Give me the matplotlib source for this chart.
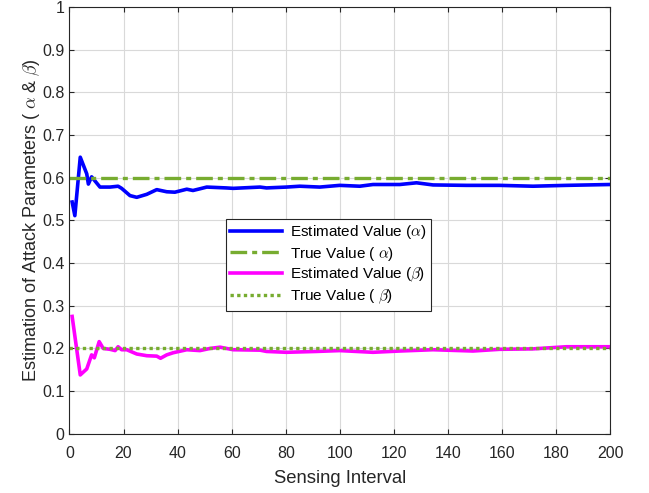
import numpy as np
import matplotlib.pyplot as plt

plt.rcParams['font.family'] = ['Liberation Sans', 'DejaVu Sans']
plt.rcParams['mathtext.fontset'] = 'cm'

# estimated alpha (sensing interval, value)
alpha_x = [1, 2, 4, 6.4, 7, 8.2, 11.3, 15, 18, 19.3, 22.4, 24.9, 28.6, 32.3, 36, 39,
           43.4, 45.7, 48.3, 50.8, 58, 60.6, 70.5, 72.9, 80.3, 85.2, 92.6, 100, 107.4,
           112.3, 122.2, 128.4, 134.5, 146.9, 159.2, 171.5, 183.8, 200]
alpha_est = [0.543, 0.511, 0.648, 0.609, 0.585, 0.602, 0.578, 0.578, 0.58, 0.575, 0.558,
             0.554, 0.561, 0.572, 0.567, 0.566, 0.573, 0.57, 0.574, 0.578, 0.576, 0.575,
             0.578, 0.576, 0.578, 0.58, 0.578, 0.582, 0.58, 0.584, 0.584, 0.588, 0.583,
             0.582, 0.582, 0.58, 0.582, 0.584]

# estimated beta
beta_x = [1, 4, 6.4, 8.2, 9.2, 11, 12.5, 15, 16.9, 18, 19.3, 21.2, 24.9, 28.6, 32.3,
          33.7, 36, 38.4, 43.4, 48.3, 52, 55.7, 60.6, 70.5, 72.9, 80.3, 91.4, 100,
          112.3, 122.2, 134.5, 149.3, 159.2, 171.5, 183.8, 200]
beta_est = [0.275, 0.138, 0.152, 0.185, 0.178, 0.216, 0.2, 0.198, 0.195, 0.204, 0.197,
            0.197, 0.187, 0.183, 0.182, 0.177, 0.185, 0.19, 0.197, 0.195, 0.2, 0.203,
            0.197, 0.196, 0.193, 0.191, 0.193, 0.195, 0.191, 0.194, 0.197, 0.194,
            0.198, 0.199, 0.204, 0.204]

alpha_true = 0.6
beta_true = 0.2
x_range = [0, 200]

fig = plt.figure(figsize=(6.49, 4.93), dpi=100)
ax = fig.add_axes([0.107, 0.12, 0.833, 0.866])

ax.plot(alpha_x, alpha_est, color='#0000FF', lw=2.6, label=r'Estimated Value ($\alpha$)')
ax.plot(x_range, [alpha_true] * 2, color='#77AC30', lw=2.4, linestyle=(0, (5, 1.5, 1.5, 1.5)),
        label=r'True Value ( $\alpha$)')
ax.plot(beta_x, beta_est, color='#FF00FF', lw=2.6, label=r'Estimated Value ($\beta$)')
ax.plot(x_range, [beta_true] * 2, color='#77AC30', lw=2.4, linestyle=(0, (1, 1)),
        label=r'True Value ( $\beta$)')

ax.set_xlim(0, 200)
ax.set_ylim(0, 1)
ax.set_xticks(np.arange(0, 201, 20))
ax.set_yticks(np.arange(0, 1.01, 0.1))
ax.set_yticklabels(['0', '0.1', '0.2', '0.3', '0.4', '0.5', '0.6', '0.7', '0.8', '0.9', '1'])
ax.tick_params(direction='in', labelsize=11.5, colors='#262626', top=True, right=True)
ax.tick_params(axis='x', pad=9)
ax.grid(color='#d9d9d9', lw=0.8)
for s in ax.spines.values():
    s.set_color('#262626')
    s.set_linewidth(0.8)

ax.set_xlabel('Sensing Interval', fontsize=13.3, color='#262626', labelpad=6)
ax.set_ylabel(r'Estimation of Attack Parameters ( $\alpha$ & $\beta$)', fontsize=13,
              color='#262626', labelpad=0)

leg = ax.legend(loc='center', bbox_to_anchor=(0.479, 0.396), fontsize=11, fancybox=False,
                framealpha=1, edgecolor='#262626', handlelength=3.4, borderpad=0.3,
                labelspacing=0.22, handletextpad=0.5)
leg.get_frame().set_linewidth(0.8)

plt.savefig('out.png', dpi=100)
